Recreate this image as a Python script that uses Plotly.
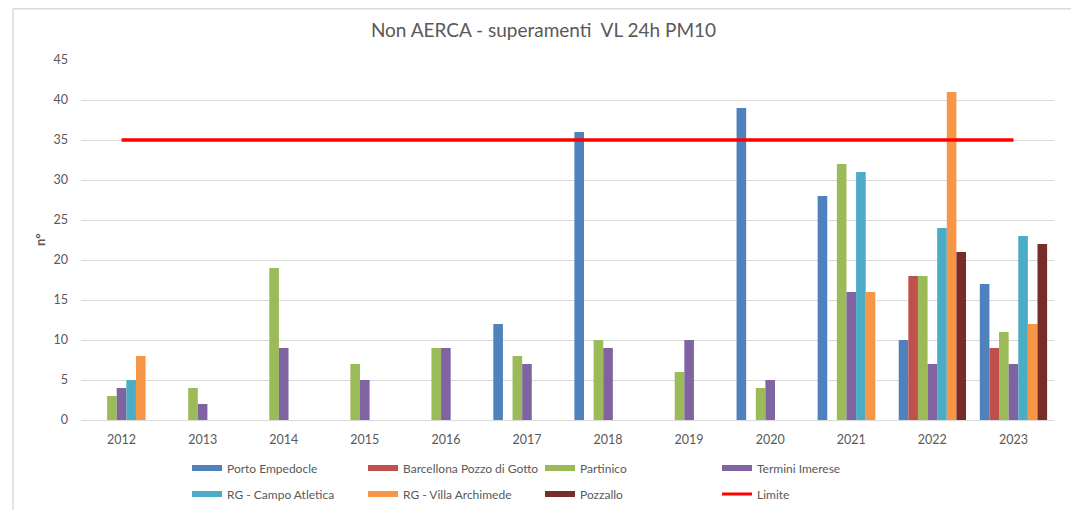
import plotly.graph_objects as go

years = ["2012", "2013", "2014", "2015", "2016", "2017", "2018", "2019", "2020", "2021", "2022", "2023"]

porto_empedocle = [None, None, None, None, None, 12, 36, None, 39, 28, 10, 17]
barcellona = [None, None, None, None, None, None, None, None, None, None, 18, 9]
partinico = [3, 4, 19, 7, 9, 8, 10, 6, 4, 32, 18, 11]
termini_imerese = [4, 2, 9, 5, 9, 7, 9, 10, 5, 16, 7, 7]
rg_campo_atletica = [5, None, None, None, None, None, None, None, None, 31, 24, 23]
rg_villa_archimede = [8, None, None, None, None, None, None, None, None, 16, 41, 12]
pozzallo = [None, None, None, None, None, None, None, None, None, None, 21, 22]
limite = [35] * len(years)

series = [
    ("Porto Empedocle", porto_empedocle, "#4F81BD", "legend"),
    ("Barcellona Pozzo di Gotto", barcellona, "#C0504D", "legend2"),
    ("Partinico", partinico, "#9BBB59", "legend3"),
    ("Termini Imerese", termini_imerese, "#8064A2", "legend4"),
    ("RG - Campo Atletica", rg_campo_atletica, "#4BACC6", "legend"),
    ("RG - Villa Archimede", rg_villa_archimede, "#F79646", "legend2"),
    ("Pozzallo", pozzallo, "#772C2A", "legend3"),
]

FONT = "Lato, Liberation Sans, Arial, sans-serif"
GREY = "#595959"

fig = go.Figure()
for name, vals, color, lg in series:
    fig.add_trace(go.Bar(
        x=years, y=vals, name=name, marker=dict(color=color, line=dict(width=0)),
        showlegend=False,
    ))
fig.add_trace(go.Scatter(
    x=years, y=limite, name="Limite", mode="lines",
    line=dict(color="#FF0000", width=3.5), showlegend=False,
))

# legend proxies (Excel-style flat swatches), one legend per column
for name, vals, color, lg in series:
    fig.add_trace(go.Scatter(
        x=[years[0]], y=[None], name=name, mode="lines",
        line=dict(color=color, width=6), legend=lg, legendgroup=name,
    ))
fig.add_trace(go.Scatter(
    x=[years[0]], y=[None], name="Limite", mode="lines",
    line=dict(color="#FF0000", width=3), legend="legend4", legendgroup="Limite",
))

# page body has an 8px margin: work in page pixels and convert
OFF = 8
W, H = 1079 - OFF, 510 - OFF
L = 81 - OFF
Rr = W - (1054 - OFF)
T = 60 - OFF
B = H - (420 - OFF)
pw = W - L - Rr
ph = H - T - B

def px_x(page_x):
    return (page_x - OFF - L) / pw

def px_y(page_y):
    return (H - B - (page_y - OFF)) / ph

def cx(page_x):
    return (page_x - OFF) / W

def cy(page_y):
    return 1 - (page_y - OFF) / H

def leg(page_x):
    return dict(
        orientation="v", font=dict(family=FONT, size=12, color=GREY),
        bgcolor="rgba(0,0,0,0)", xref="container", yref="container",
        x=cx(page_x), y=cy(481), xanchor="left", yanchor="middle",
        itemwidth=30, traceorder="grouped", tracegroupgap=7,
    )

fig.update_layout(
    width=W, height=H,
    margin=dict(l=L, r=Rr, t=T, b=B, autoexpand=False),
    paper_bgcolor="white", plot_bgcolor="white",
    font=dict(family=FONT, color=GREY, size=12),
    title=dict(
        text="Non AERCA - superamenti  VL 24h PM10",
        x=0.5, xanchor="center", y=cy(30), yanchor="middle",
        font=dict(family=FONT, size=19, color=GREY),
    ),
    barmode="group", bargap=0.17, bargroupgap=0,
    legend=leg(187),
    legend2=leg(363),
    legend3=leg(540),
    legend4=leg(717),
    xaxis=dict(
        type="category", showgrid=False, showline=True, linecolor="#D9D9D9",
        linewidth=1, ticks="", tickfont=dict(family=FONT, size=12.5, color=GREY),
        ticklabelstandoff=8,
    ),
    yaxis=dict(
        range=[0, 45], dtick=5, showgrid=True, gridcolor="#D9D9D9", gridwidth=1,
        zeroline=False, showline=False, ticks="",
        tickfont=dict(family=FONT, size=12.5, color=GREY), ticklabelstandoff=12,
    ),
    annotations=[
        dict(text="<b>n°</b>", xref="paper", yref="paper", x=px_x(40), y=px_y(240),
             xanchor="center", yanchor="middle", textangle=-90, showarrow=False,
             font=dict(family=FONT, size=13, color=GREY)),
    ],
    shapes=[
        dict(type="line", xref="paper", yref="paper", x0=px_x(13), x1=px_x(13),
             y0=px_y(8.8), y1=px_y(520), line=dict(color="#D9D9D9", width=1.5)),
        dict(type="line", xref="paper", yref="paper", x0=px_x(13), x1=px_x(1072),
             y0=px_y(8.8), y1=px_y(8.8), line=dict(color="#D9D9D9", width=1.5)),
        dict(type="line", xref="paper", yref="paper", x0=px_x(1072), x1=px_x(1072),
             y0=px_y(8.8), y1=px_y(520), line=dict(color="#D9D9D9", width=1.5)),
    ],
)

fig.write_html("out.html")
